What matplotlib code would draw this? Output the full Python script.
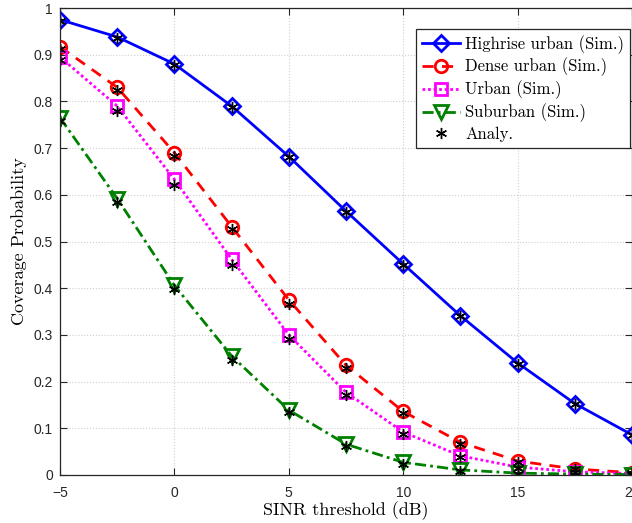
import matplotlib.pyplot as plt

# SINR threshold (dB)
sinr_db = [-5, -2.5, 0, 2.5, 5, 7.5, 10, 12.5, 15, 17.5, 20]

# simulated coverage
highrise_sim = [0.975, 0.938, 0.880, 0.790, 0.682, 0.565, 0.452, 0.341, 0.240, 0.153, 0.086]
dense_sim = [0.917, 0.830, 0.690, 0.532, 0.375, 0.235, 0.136, 0.070, 0.030, 0.013, 0.005]
urban_sim = [0.895, 0.790, 0.633, 0.462, 0.300, 0.177, 0.092, 0.041, 0.017, 0.007, 0.003]
suburban_sim = [0.765, 0.592, 0.406, 0.255, 0.139, 0.066, 0.027, 0.011, 0.004, 0.002, 0.001]

# analytical
highrise_ana = [0.972, 0.936, 0.877, 0.788, 0.680, 0.563, 0.450, 0.340, 0.238, 0.151, 0.085]
dense_ana = [0.913, 0.824, 0.684, 0.526, 0.367, 0.230, 0.132, 0.067, 0.028, 0.012, 0.004]
urban_ana = [0.889, 0.780, 0.621, 0.449, 0.291, 0.171, 0.087, 0.038, 0.015, 0.006, 0.002]
suburban_ana = [0.758, 0.584, 0.399, 0.246, 0.134, 0.063, 0.024, 0.009, 0.003, 0.001, 0.0005]

labels = ['Highrise urban (Sim.)', 'Dense urban (Sim.)', 'Urban (Sim.)', 'Suburban (Sim.)']

fig = plt.figure(figsize=(6.32, 5.23), dpi=100)
ax = fig.add_axes([60 / 632, 48 / 523, 572 / 632, 467 / 523])

lw = 2.0
ax.plot(sinr_db, highrise_sim, color='blue', ls='-', lw=lw, marker='D', ms=8,
        mfc='none', mew=2, label=labels[0])
ax.plot(sinr_db, dense_sim, color='red', ls=(0, (4, 3)), lw=lw, marker='o', ms=9,
        mfc='none', mew=2, label=labels[1])
ax.plot(sinr_db, urban_sim, color='magenta', ls=(0, (1, 1)), lw=lw, marker='s', ms=8,
        mfc='none', mew=2, label=labels[2])
ax.plot(sinr_db, suburban_sim, color='green', ls=(0, (4, 1.5, 1, 1.5)), lw=lw, marker='v', ms=10,
        mfc='none', mew=2, label=labels[3])

star = (6, 2, 0)
ax.plot(sinr_db, highrise_ana, ls='none', marker=star, ms=8, color='black', mew=1, label='Analy.')
for ys in (dense_ana, urban_ana, suburban_ana):
    ax.plot(sinr_db, ys, ls='none', marker=star, ms=8, color='black', mew=1)

ax.set_xlim(-5, 20)
ax.set_ylim(0, 1)
ax.set_xticks([-5, 0, 5, 10, 15, 20])
ax.set_yticks([0, 0.1, 0.2, 0.3, 0.4, 0.5, 0.6, 0.7, 0.8, 0.9, 1])
ax.set_yticklabels(['0', '0.1', '0.2', '0.3', '0.4', '0.5', '0.6', '0.7', '0.8', '0.9', '1'])
ax.tick_params(direction='in', top=True, right=True, labelsize=10, colors='#262626',
               labelcolor='#262626', length=5, width=0.8)
ax.tick_params(axis='x', pad=8)
ax.tick_params(axis='y', pad=5)
for lab in ax.get_xticklabels() + ax.get_yticklabels():
    lab.set_family('Liberation Sans')
ax.grid(True, ls=':', color='#d0d0d0', lw=0.8)
for s in ax.spines.values():
    s.set_color('#262626')
    s.set_linewidth(0.9)

ax.set_xlabel('SINR threshold (dB)', family='cmr10', fontsize=13, labelpad=1)
ax.set_ylabel('Coverage Probability', family='cmr10', fontsize=13, labelpad=5)

leg = ax.legend(loc='upper right', bbox_to_anchor=(0.997, 0.955), prop={'family': 'cmr10', 'size': 12},
                fancybox=False, framealpha=1, edgecolor='#262626', handlelength=2.3,
                handletextpad=0.3, borderpad=0.35, labelspacing=0.25, borderaxespad=0)
leg.get_frame().set_linewidth(0.9)

fig.savefig('out.png', dpi=100)
